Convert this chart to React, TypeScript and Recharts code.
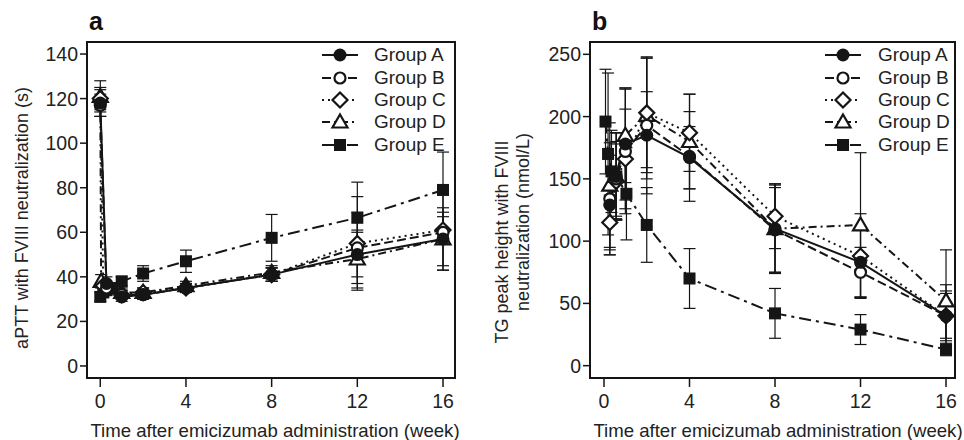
import React from 'react';
import {
  LineChart,
  Line,
  XAxis,
  YAxis,
  ErrorBar,
  ReferenceArea,
  Legend
} from 'recharts';

// ---- data ----
const groupNames = ['Group A', 'Group B', 'Group C', 'Group D', 'Group E'];
const weekTicks = [0, 4, 8, 12, 16];
const aTicks = [0, 20, 40, 60, 80, 100, 120, 140];
const bTicks = [0, 50, 100, 150, 200, 250];

// panel a: aPTT (s)
const aX_A = [0, 0.29, 1, 2, 4, 8, 12, 16];
const aY_A = [118, 37, 31, 32, 35, 41, 50, 57];
const aE_A = [6, 3, 2, 2, 2, 3, 10, 12];
const aX_B = [0, 0.29, 1, 2, 4, 8, 12, 16];
const aY_B = [117, 35, 32, 32, 35, 41, 53, 60];
const aE_B = [5, 3, 2, 2, 2, 3, 16, 17];
const aX_C = [0, 0.14, 1, 2, 4, 8, 12, 16];
const aY_C = [120, 36, 32, 33, 35, 41, 55, 61];
const aE_C = [5, 3, 2, 2, 2, 3, 21, 6];
const aX_D = [0, 0.04, 1, 2, 4, 8, 12, 16];
const aY_D = [121, 38, 33, 33, 36, 42, 48, 57];
const aE_D = [7, 3, 2, 2, 2, 3, 13, 14];
const aX_E = [0, 0.14, 0.29, 0.57, 1, 2, 4, 8, 12, 16];
const aY_E = [31, 33, 34, 35, 38, 41.5, 47, 57.5, 66.5, 79];
const aE_E = [2, 2, 2, 2, 2, 3.5, 5, 10.5, 16, 17];

// panel b: TG peak height (nmol/L)
const bX_A = [0.27, 0.57, 1, 2, 4, 8, 12, 16];
const bY_A = [129, 152, 178, 185, 167, 110, 83, 40];
const bE_A = [40, 35, 45, 35, 25, 35, 28, 25];
const bX_B = [0.27, 0.57, 1, 2, 4, 8, 12, 16];
const bY_B = [134, 150, 172, 193, 168, 109, 75, 40];
const bE_B = [45, 30, 50, 55, 36, 34, 20, 20];
const bX_C = [0.27, 0.57, 1, 2, 4, 8, 12, 16];
const bY_C = [115, 148, 166, 203, 187, 120, 88, 40];
const bE_C = [22, 30, 40, 44, 31, 26, 34, 18];
const bX_D = [0.27, 0.57, 1, 2, 4, 8, 12, 16];
const bY_D = [145, 152, 185, 201, 180, 110, 113, 52];
const bE_D = [50, 35, 38, 46, 38, 36, 58, 41];
const bX_E = [0.07, 0.19, 0.35, 0.58, 1.05, 2, 4, 8, 12, 16];
const bY_E = [196, 170, 156, 152, 138, 113, 70, 42, 29, 13];
const bE_E = [42, 65, 33, 35, 37, 30, 24, 20, 12, 5];

const zip = (xs: number[], ys: number[], es: number[]) =>
  xs.map((x, i) => ({ x, y: ys[i], e: es[i] }));

const INK = '#151515';
const TXT = '#222';
const FONT = '"Liberation Sans", Arial, sans-serif';

type Shape = 'dot' | 'ring' | 'diamond' | 'triangle' | 'square';

const styles: { shape: Shape; dash?: string }[] = [
  { shape: 'dot' },
  { shape: 'ring', dash: '9 4' },
  { shape: 'diamond', dash: '2 4' },
  { shape: 'triangle', dash: '8 4 2 4' },
  { shape: 'square', dash: '12 5 3 5' }
];

const Marker = ({ shape, cx, cy }: { shape: Shape; cx: number; cy: number }) => {
  switch (shape) {
    case 'dot':
      return <circle cx={cx} cy={cy} r={6.5} fill={INK} />;
    case 'ring':
      return <circle cx={cx} cy={cy} r={5.5} fill="#fff" stroke={INK} strokeWidth={2.2} />;
    case 'diamond':
      return (
        <polygon
          points={`${cx},${cy - 7.5} ${cx + 7.5},${cy} ${cx},${cy + 7.5} ${cx - 7.5},${cy}`}
          fill="#fff" stroke={INK} strokeWidth={2.2}
        />
      );
    case 'triangle':
      return (
        <polygon
          points={`${cx},${cy - 7.5} ${cx + 7.5},${cy + 5.5} ${cx - 7.5},${cy + 5.5}`}
          fill="#fff" stroke={INK} strokeWidth={2.2}
        />
      );
    default:
      return <rect x={cx - 6} y={cy - 6} width={12} height={12} fill={INK} />;
  }
};

const makeDot = (shape: Shape) => (props: any) => {
  const { cx, cy, index } = props;
  if (cx == null || cy == null) return <g key={`n-${index}`} />;
  return <Marker key={`${shape}-${index}`} shape={shape} cx={cx} cy={cy} />;
};

const renderLegend = (gap: number) => () => (
  <div style={{ display: 'flex', flexDirection: 'column', fontFamily: FONT, color: TXT }}>
    {groupNames.map((name, i) => (
      <div key={name} style={{ display: 'flex', alignItems: 'center', height: 22.4 }}>
        <svg width={40} height={20}>
          <line x1={2} y1={10} x2={38} y2={10} stroke={INK} strokeWidth={2} strokeDasharray={styles[i].dash} />
          <Marker shape={styles[i].shape} cx={20} cy={10} />
        </svg>
        <span style={{ marginLeft: gap, fontSize: 19, lineHeight: '22px' }}>{name}</span>
      </div>
    ))}
  </div>
);

interface PanelProps {
  series: { x: number; y: number; e: number }[][];
  width: number;
  yDomain: [number, number];
  xDomain: [number, number];
  yTicks: number[];
  yLabel: string[];
  legendLeft: number;
  legendGap: number;
  labelX: number[];
  labelY: number[];
  xLabelX: number;
  marginLeft: number;
  marginRight: number;
}

function Panel({
  series, width, yDomain, xDomain, yTicks, yLabel, legendLeft, legendGap,
  labelX, labelY, xLabelX, marginLeft, marginRight
}: PanelProps) {
  return (
    <LineChart width={width} height={440} margin={{ top: 42, right: marginRight, bottom: 22, left: marginLeft }}>
      <XAxis
        dataKey="x"
        type="number"
        domain={xDomain}
        allowDataOverflow
        ticks={weekTicks}
        axisLine={false}
        tickSize={9}
        tickMargin={7}
        tickLine={{ stroke: INK, strokeWidth: 1.5 }}
        tick={{ fontSize: 19.5, fill: TXT, fontFamily: FONT }}
        height={40}
        label={{
          content: () => (
            <text x={xLabelX} y={437} textAnchor="middle" fontSize={18.6} fill={TXT} fontFamily={FONT}>
              Time after emicizumab administration (week)
            </text>
          )
        }}
      />
      <YAxis
        type="number"
        domain={yDomain}
        allowDataOverflow
        ticks={yTicks}
        axisLine={false}
        tickSize={7}
        tickMargin={2}
        tickLine={{ stroke: INK, strokeWidth: 1.5 }}
        tick={{ fontSize: 19.5, fill: TXT, fontFamily: FONT }}
        width={60}
        label={{
          content: () => (
            <g>
              {yLabel.map((t, i) => (
                <text
                  key={t}
                  x={labelX[i]}
                  y={labelY[i]}
                  transform={`rotate(-90 ${labelX[i]} ${labelY[i]})`}
                  textAnchor="middle"
                  dominantBaseline="central"
                  fontSize={18}
                  fill={TXT}
                  fontFamily={FONT}
                >
                  {t}
                </text>
              ))}
            </g>
          )
        }}
      />
      <ReferenceArea
        x1={xDomain[0]}
        x2={xDomain[1]}
        y1={yDomain[0]}
        y2={yDomain[1]}
        fill="none"
        stroke={INK}
        strokeWidth={2}
      />
      {series
        .map((data, i) => (
          <Line
            key={groupNames[i]}
            data={data}
            dataKey="y"
            name={groupNames[i]}
            type="linear"
            stroke={INK}
            strokeWidth={2}
            strokeDasharray={styles[i].dash}
            dot={makeDot(styles[i].shape)}
            activeDot={false}
            isAnimationActive={false}
          >
            <ErrorBar dataKey="e" direction="y" width={6} stroke={INK} strokeWidth={1.2} />
          </Line>
        ))
        .reverse()}
      <Legend
        layout="vertical"
        align="center"
        verticalAlign="middle"
        content={renderLegend(legendGap)}
        wrapperStyle={{ left: legendLeft, top: 44, width: 'auto', height: 'auto' }}
      />
    </LineChart>
  );
}

export default function App() {
  const aSeries = [
    zip(aX_A, aY_A, aE_A),
    zip(aX_B, aY_B, aE_B),
    zip(aX_C, aY_C, aE_C),
    zip(aX_D, aY_D, aE_D),
    zip(aX_E, aY_E, aE_E)
  ];
  const bSeries = [
    zip(bX_A, bY_A, bE_A),
    zip(bX_B, bY_B, bE_B),
    zip(bX_C, bY_C, bE_C),
    zip(bX_D, bY_D, bE_D),
    zip(bX_E, bY_E, bE_E)
  ];
  const panelLetter: React.CSSProperties = {
    position: 'absolute', top: 6, fontSize: 25, fontWeight: 'bold', color: '#111', lineHeight: '30px'
  };
  return (
    <div style={{ position: 'absolute', left: 0, top: 0, width: 964, height: 440, background: '#fff', fontFamily: FONT }}>
      <div style={{ position: 'absolute', left: 0, top: 0 }}>
        <Panel
          series={aSeries}
          width={480}
          xDomain={[-0.62, 16.56]}
          yDomain={[-5.4, 145.4]}
          yTicks={aTicks}
          yLabel={['aPTT with FVIII neutralization (s)']}
          labelX={[22]}
          labelY={[218]}
          xLabelX={275}
          marginLeft={27}
          marginRight={25}
          legendLeft={320}
          legendGap={14}
        />
      </div>
      <div style={{ position: 'absolute', left: 480, top: 0 }}>
        <Panel
          series={bSeries}
          width={484}
          xDomain={[-0.655, 16.42]}
          yDomain={[-9.9, 259.9]}
          yTicks={bTicks}
          yLabel={['TG peak height with FVIII', 'neutralization (nmol/L)']}
          labelX={[22, 43]}
          labelY={[242, 222]}
          xLabelX={298}
          marginLeft={50}
          marginRight={9}
          legendLeft={343}
          legendGap={15}
        />
      </div>
      <div style={{ ...panelLetter, left: 89 }}>a</div>
      <div style={{ ...panelLetter, left: 592 }}>b</div>
    </div>
  );
}
